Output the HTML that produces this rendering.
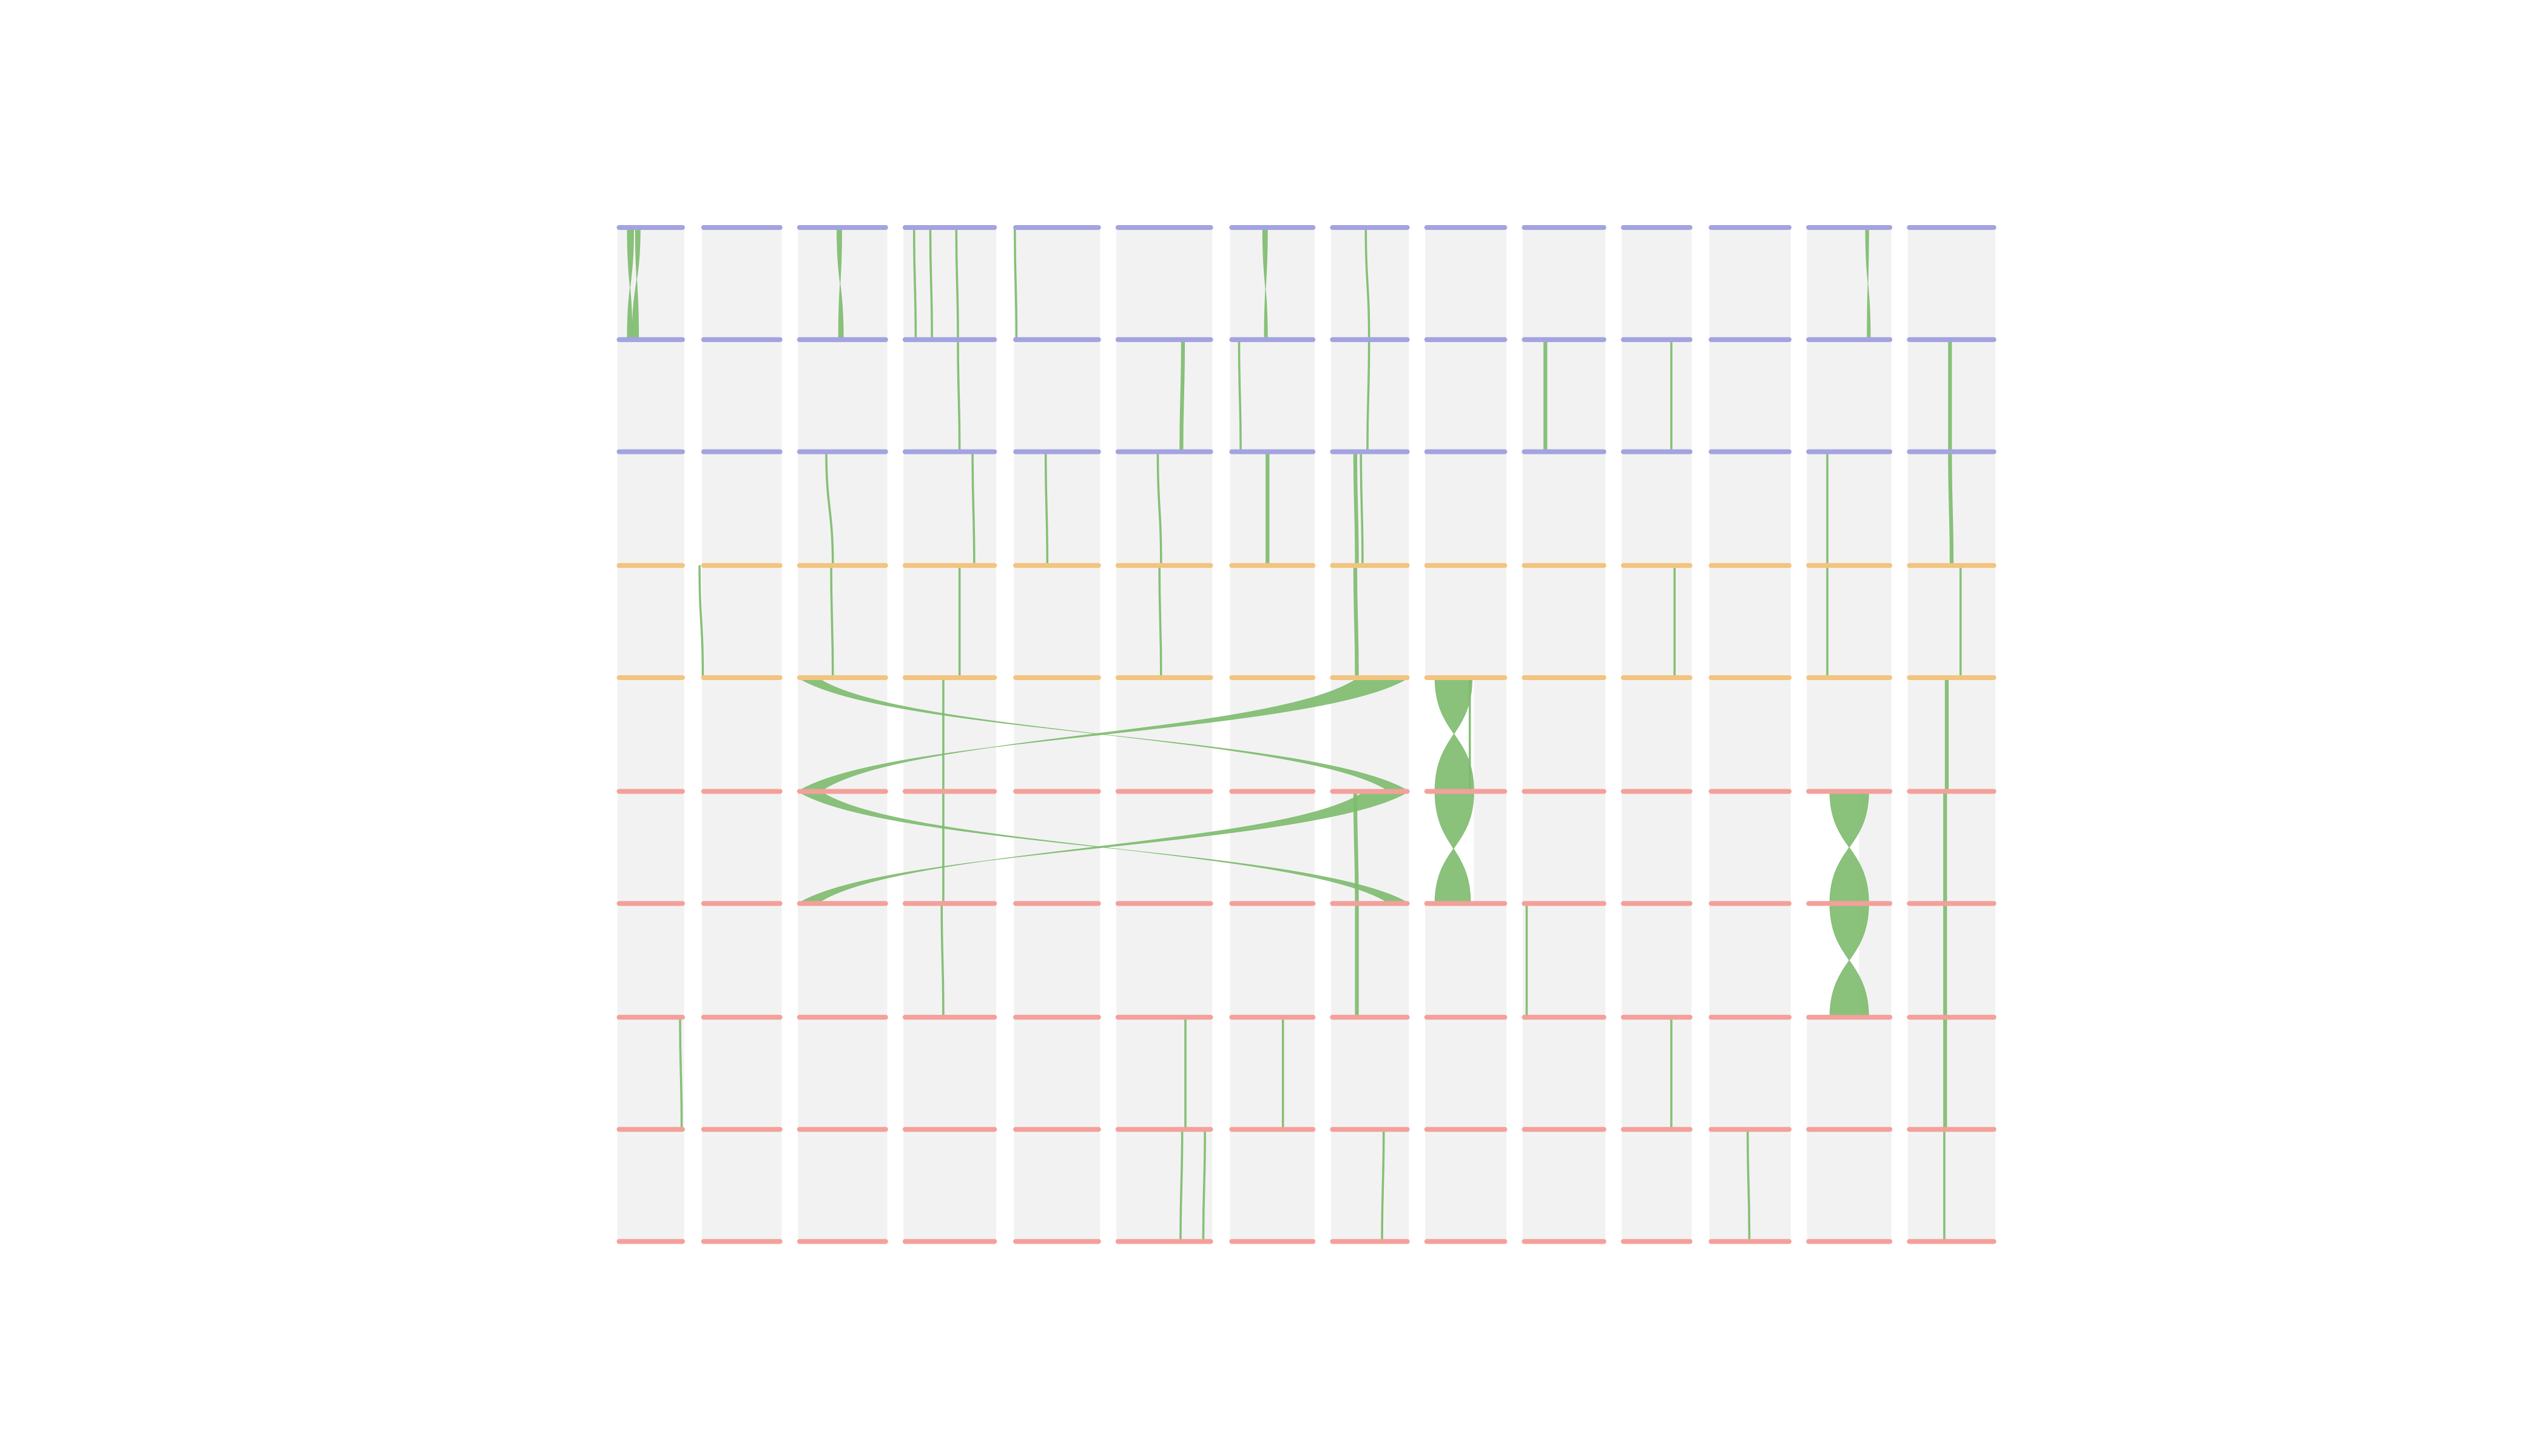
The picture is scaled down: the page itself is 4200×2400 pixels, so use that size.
<!DOCTYPE html>
<html><head><meta charset="utf-8">
<style>html,body{margin:0;padding:0;background:#fff;}svg{display:block;}</style>
</head><body>
<svg id="chart" width="4200" height="2400" viewBox="0 0 1568 896" xmlns="http://www.w3.org/2000/svg">
<g id="bg"></g>
<g id="links"></g>
<g id="bars"></g>
</svg>
<script>
// Row (genome track) y positions and colours
const rowY = [140, 209, 278, 348, 417, 487, 556, 626, 695, 764];
const rowColor = ['#a3a3e1','#a3a3e1','#a3a3e1','#f3c47f','#f3c47f','#f4a09a','#f4a09a','#f4a09a','#f4a09a','#f4a09a'];
// Column (chromosome) extents
const colStart = [380, 432, 491, 556, 624, 687, 757, 819, 877, 937, 998, 1052, 1112, 1174];
const colEnd   = [421, 481, 546, 613, 677, 746, 809, 867, 927, 988, 1041, 1102, 1164, 1228];
// Blocks with partial grey background: [col, topRow]
const emptyBlocks = [[8,4],[8,5],[12,5],[12,6]];
// Highlighted links: top row index, top x1, top x2, bottom x1, bottom x2, twisted(1)/straight(0)
const linkRow = [0,0,0,0,0,0,0,0,0,0, 1,1,1,1,1,1,1, 2,2,2,2,2,2,2,2,2, 3,3,3,3,3,3,3,3, 4,4,4, 5,5,5, 6,6,6,6, 7,7,7,7,7, 8,8,8,8,8, 4,5,5,6];
const linkTopA = [386,391,515,562,572,588,624,777,840,1148, 727,842,950,1028,1199,762,589, 508,643,712,779,833,837,1124,1199, 598,
  430,511,590,713,833,1030,1124,1206, 580,1197,904, 833,1196,580, 579,834,1196,939, 418,729,789,1028,1196, 727,741,851,1196,1075, 883,883,1126,1126];
const linkTopB = [390,394,518,563,573,589,625,780,841,1150, 729,843,952,1029,1201,763,590, 509,644,713,781,835,838,1125,1201, 599,
  431,512,591,714,835,1031,1125,1207, 581,1199,905, 835,1198,581, 580,836,1198,940, 419,730,790,1029,1198, 728,742,852,1197,1076, 906,907,1150,1150];
const linkBotA = [386,389,516,563,573,589,625,778,842,1149, 726,841,950,1028,1199,763,590, 512,644,714,779,834,838,1124,1200, 599,
  432,512,590,714,834,1030,1124,1206, 580,1197,904, 834,1196,580, 580,834,1196,939, 419,729,789,1028,1196, 726,740,850,1196,1076, 883,883,1126,1126];
const linkBotB = [389,393,519,564,574,590,626,780,843,1151, 728,842,952,1029,1201,764,591, 513,645,715,781,836,839,1125,1202, 600,
  433,513,591,715,836,1031,1125,1207, 581,1199,905, 836,1198,581, 581,836,1198,940, 420,730,790,1029,1198, 727,741,851,1197,1077, 907,905,1150,1150];
const linkTwist = [1,1,1,0,0,0,0,1,0,1, 0,0,0,0,0,0,0, 0,0,0,0,0,0,0,0,0, 0,0,0,0,0,0,0,0, 0,0,0, 0,0,0, 0,0,0,0, 0,0,0,0,0, 0,0,0,0,0, 1,1,1,1];
// Large crossing ribbons: top row, top x1, top x2, bottom x1, bottom x2
const ribRow  = [4, 4, 5, 5];
const ribTopA = [491, 836, 491, 840];
const ribTopB = [503, 867, 505, 867];
const ribBotA = [855, 491, 855, 491];
const ribBotB = [867, 505, 867, 503];

const NS = 'http://www.w3.org/2000/svg';
const bg = document.getElementById('bg'), lk = document.getElementById('links'), br = document.getElementById('bars');
function isEmpty(c, r){ return emptyBlocks.some(e => e[0] === c && e[1] === r); }
function ribbonPath(y1, a1, b1, y2, a2, b2){
  const m = (y1 + y2) / 2;
  return `M${a1},${y1} L${b1},${y1} C${b1},${m} ${b2},${m} ${b2},${y2} L${a2},${y2} C${a2},${m} ${a1},${m} ${a1},${y1} Z`;
}
function twistPath(y1, a1, b1, y2, a2, b2){
  const m = (y1 + y2) / 2;
  return `M${a1},${y1} L${b1},${y1} C${b1},${m} ${a2},${m} ${a2},${y2} L${b2},${y2} C${b2},${m} ${a1},${m} ${a1},${y1} Z`;
}
function edge(xs, ys, xe, ye){
  const dx = xe - xs, dy = ye - ys;
  return `C${xs + 0.15*dx},${ys + 0.5*dy} ${xe - 0.15*dx},${ye - 0.5*dy} ${xe},${ye}`;
}
function crossPath(y1, a1, b1, y2, a2, b2){
  // twisted long-range ribbon: a1 -> b2, b1 -> a2
  return `M${a1},${y1} ${edge(a1,y1,b2,y2)} L${a2},${y2} ${edge(a2,y2,b1,y1)} Z`;
}
for (let c = 0; c < colStart.length; c++) {
  for (let r = 0; r < rowY.length - 1; r++) {
    const p = document.createElementNS(NS, 'rect');
    let x0 = colStart[c], x1 = colEnd[c];
    if (isEmpty(c, r)) { x0 = colEnd[c] - 20; }
    p.setAttribute('x', x0); p.setAttribute('y', rowY[r]);
    p.setAttribute('width', x1 - x0); p.setAttribute('height', rowY[r+1] - rowY[r]);
    p.setAttribute('fill', '#f2f2f2');
    
    
    bg.appendChild(p);
  }
}
for (let i = 0; i < linkRow.length; i++) {
  const r = linkRow[i];
  const p = document.createElementNS(NS, 'path');
  const fn = linkTwist[i] ? twistPath : ribbonPath;
  p.setAttribute('d', fn(rowY[r], linkTopA[i], linkTopB[i], rowY[r+1], linkBotA[i], linkBotB[i]));
  p.setAttribute('fill', '#7dbb6e'); p.setAttribute('fill-opacity', '0.9');
  p.setAttribute('stroke', '#7dbb6e'); p.setAttribute('stroke-width', '0.3');
  
  
  lk.appendChild(p);
}
for (let i = 0; i < ribRow.length; i++) {
  const r = ribRow[i];
  const p = document.createElementNS(NS, 'path');
  p.setAttribute('d', crossPath(rowY[r], ribTopA[i], ribTopB[i], rowY[r+1], ribBotA[i], ribBotB[i]));
  p.setAttribute('fill', '#7dbb6e'); p.setAttribute('fill-opacity', '0.9');
  p.setAttribute('stroke', '#7dbb6e'); p.setAttribute('stroke-width', '0.3');
  
  
  lk.appendChild(p);
}
for (let r = 0; r < rowY.length; r++) {
  for (let c = 0; c < colStart.length; c++) {
    const l = document.createElementNS(NS, 'line');
    l.setAttribute('x1', colStart[c] + 1); l.setAttribute('x2', colEnd[c] - 1);
    l.setAttribute('y1', rowY[r]); l.setAttribute('y2', rowY[r]);
    l.setAttribute('stroke', rowColor[r]); l.setAttribute('stroke-width', '3');
    l.setAttribute('stroke-linecap', 'round');
    
    
    br.appendChild(l);
  }
}
</script>
</body></html>
